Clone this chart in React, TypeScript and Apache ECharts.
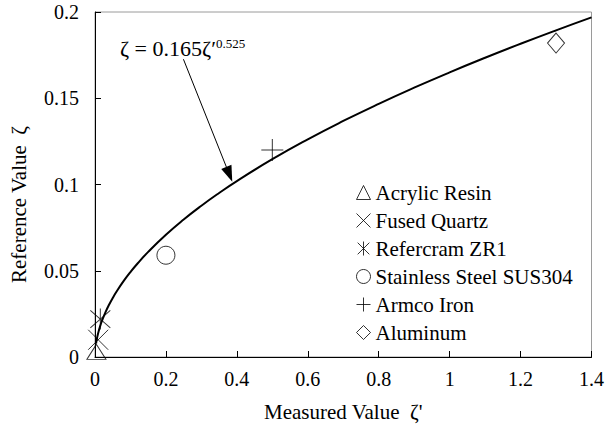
import React, { useEffect, useRef } from "react";
import * as echarts from "echarts";

// Power-law fit  ζ = 0.165 ζ'^0.525
const FIT_COEF = 0.165;
const FIT_EXP = 0.525;
const fitX = [
  0.003, 0.006, 0.01, 0.015, 0.02, 0.03, 0.04, 0.05, 0.06, 0.08, 0.1, 0.12,
  0.15, 0.2, 0.25, 0.3, 0.35, 0.4, 0.5, 0.6, 0.7, 0.8, 0.9, 1.0, 1.1, 1.2,
  1.3, 1.4,
];

// Measured points per material
const materials = [
  "Acrylic Resin",
  "Fused Quartz",
  "Refercram ZR1",
  "Stainless Steel SUS304",
  "Armco Iron",
  "Aluminum",
];
const measuredValues = [0.004, 0.009, 0.015, 0.2, 0.5, 1.3];
const referenceValues = [0.003, 0.01, 0.022, 0.059, 0.12, 0.182];
const materialSymbols = [
  "triangle",
  "path://M0,0L10,10M10,0L0,10",
  "path://M0,0L10,10M10,0L0,10M5,-1L5,11",
  "circle",
  "path://M5,0L5,10M0,5L10,5",
  "diamond",
];
const materialSymbolSizes: (number | number[])[] = [
  [19, 15],
  [20, 20],
  [20, 21],
  18,
  22,
  [17, 20],
];

// Axis ranges
const xRange = [0, 1.4];
const xStep = 0.2;
const yRange = [0, 0.2];
const yStep = 0.05;

// Annotation: equation label and arrow pointing at the curve
const equationAt = [0.247, 0.1786];
const arrowFrom = [0.2494, 0.1726];
const arrowTo = [0.3787, 0.1059];

const FONT = "Liberation Serif";

export default function App() {
  const ref = useRef<HTMLDivElement>(null);

  useEffect(() => {
    document.body.style.margin = "0";
    const chart = echarts.init(ref.current!, null, { renderer: "svg" });

    const fitData = fitX.map((x) => [x, FIT_COEF * Math.pow(x, FIT_EXP)]);

    const scatterSeries = materials.map((name, i) => ({
      name,
      type: "scatter",
      data: [[measuredValues[i], referenceValues[i]]],
      symbol: materialSymbols[i],
      symbolSize: materialSymbolSizes[i],
      itemStyle: {
        color: "rgba(0,0,0,0)",
        borderColor: "#000",
        borderWidth: 1,
      },
      z: 3,
    }));

    const option = {
      animation: false,
      backgroundColor: "#fff",
      textStyle: { fontFamily: FONT, color: "#000" },
      grid: {
        left: 94,
        right: 15,
        top: 12,
        bottom: 71,
        show: true,
        borderColor: "#9a9a9a",
        borderWidth: 1,
      },
      legend: {
        orient: "vertical",
        left: 351,
        top: 177,
        itemWidth: 14,
        itemHeight: 14,
        itemGap: 7,
        data: materials,
        itemStyle: { borderWidth: 1 },
        textStyle: {
          fontFamily: FONT,
          fontSize: 21,
          color: "#000",
          lineHeight: 21,
        },
      },
      xAxis: {
        type: "value",
        min: xRange[0],
        max: xRange[1],
        interval: xStep,
        name: "Measured Value  ζ'",
        nameLocation: "middle",
        nameGap: 44,
        nameTextStyle: { fontFamily: FONT, fontSize: 21, color: "#000" },
        axisLine: { lineStyle: { color: "#000", width: 1 } },
        axisTick: { inside: true, length: 6, lineStyle: { color: "#000" } },
        axisLabel: {
          margin: 12,
          fontFamily: FONT,
          fontSize: 20,
          color: "#000",
        },
        splitLine: { show: false },
      },
      yAxis: {
        type: "value",
        min: yRange[0],
        max: yRange[1],
        interval: yStep,
        name: "Reference Value  ζ",
        nameLocation: "middle",
        nameGap: 66,
        nameTextStyle: {
          fontFamily: FONT,
          fontSize: 21,
          color: "#000",
          padding: [0, 40, 0, 0],
        },
        axisLine: { lineStyle: { color: "#000", width: 1 } },
        axisTick: { inside: true, length: 6, lineStyle: { color: "#000" } },
        axisLabel: {
          margin: 16,
          fontFamily: FONT,
          fontSize: 20,
          color: "#000",
        },
        splitLine: { show: false },
      },
      series: [
        {
          name: "fit",
          type: "line",
          data: fitData,
          showSymbol: false,
          smooth: true,
          lineStyle: { color: "#000", width: 2 },
          z: 2,
          markLine: {
            silent: true,
            symbol: ["none", "triangle"],
            symbolSize: [11, 16],
            lineStyle: { color: "#000", width: 1, type: "solid" },
            label: { show: false },
            data: [[{ coord: arrowFrom }, { coord: arrowTo }]],
          },
          markPoint: {
            silent: true,
            symbolSize: 0,
            itemStyle: { color: "rgba(0,0,0,0)" },
            label: {
              show: true,
              position: "inside",
              formatter: "{m|ζ = 0.165ζ′}{s|0.525}",
              rich: {
                m: {
                  fontFamily: FONT,
                  fontSize: 22,
                  color: "#000",
                  lineHeight: 24,
                },
                s: {
                  fontFamily: FONT,
                  fontSize: 13,
                  color: "#000",
                  lineHeight: 15,
                  verticalAlign: "top",
                },
              },
            },
            data: [{ coord: equationAt }],
          },
        },
        ...scatterSeries,
      ],
    };

    chart.setOption(option as any);
    return () => chart.dispose();
  }, []);

  return <div ref={ref} style={{ width: 607, height: 428 }} />;
}
